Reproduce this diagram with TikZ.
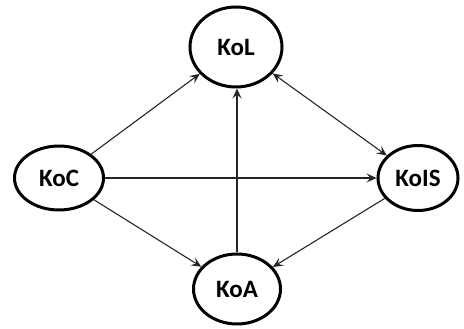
\documentclass[tikz,border=0pt]{standalone}
\usepackage{fontspec}
\setsansfont{Carlito}
\usepackage{tikz}
\usetikzlibrary{shapes.geometric, arrows.meta}

\begin{document}
\begin{tikzpicture}[x=1pt, y=1pt,
  state/.style={draw, ellipse, line width=3pt, inner sep=0pt,
    font=\sffamily\bfseries\fontsize{25}{25}\selectfont},
  link/.style={-{Stealth[length=10pt, width=9pt, inset=4pt]},
    line width=1.1pt, black!85}]
  \useasboundingbox (0,0) rectangle (464,329);

  \node[state, minimum width=92pt, minimum height=80pt] (kol) at (236,282) {KoL};
  \node[state, minimum width=89pt, minimum height=64pt] (koc) at (59,151) {KoC};
  \node[state, minimum width=80pt, minimum height=65pt] (kois) at (418,151) {KoIS};
  \node[state, minimum width=87pt, minimum height=70pt] (koa) at (237,40) {KoA};

  \draw[link] (koc) -- (kol);
  \draw[link] (koc) -- (kois);
  \draw[link] (koc) -- (koa);
  \draw[link] (koa.north) -- (koa.north |- kol.south);
  \draw[link, {Stealth[length=10pt, width=9pt, inset=4pt]}-{Stealth[length=10pt, width=9pt, inset=4pt]}] (kol) -- (kois);
  \draw[link] (kois) -- (koa);
\end{tikzpicture}
\end{document}
